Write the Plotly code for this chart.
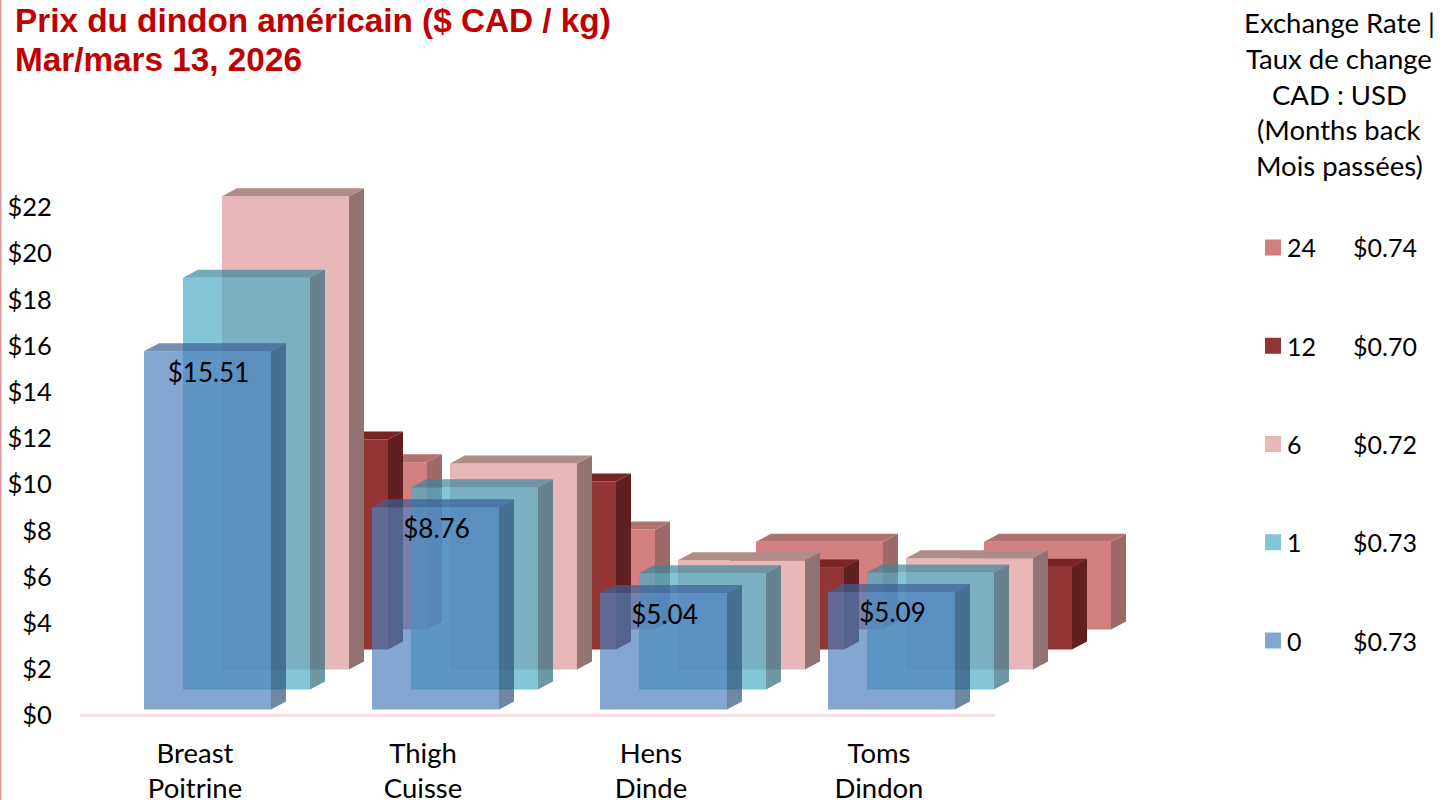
import plotly.graph_objects as go

# ---- data ----
categories = ["Breast<br>Poitrine", "Thigh<br>Cuisse", "Hens<br>Dinde", "Toms<br>Dindon"]
months_back = ["0", "1", "6", "12", "24"]
rates = ["$0.73", "$0.73", "$0.72", "$0.70", "$0.74"]
s0 = [15.51, 8.76, 5.04, 5.09]
s1 = [17.83, 8.75, 5.03, 5.06]
s2 = [20.49, 8.92, 4.73, 4.82]
s3 = [9.09, 7.27, 3.55, 3.58]
s4 = [7.24, 4.33, 3.80, 3.80]
series = [s0, s1, s2, s3, s4]
y_ticks = list(range(0, 24, 2))
title_lines = ["Prix du dindon américain ($ CAD / kg)", "Mar/mars 13, 2026"]
header_lines = ["Exchange Rate |", "Taux de change", "CAD : USD", "(Months back", "Mois passées)"]

# ---- styles / projection ----
front = ["rgba(79,129,189,0.7)", "rgba(75,172,198,0.7)", "rgb(232,184,184)", "rgb(146,53,53)", "rgb(209,127,127)"]
side = ["rgba(49,84,124,0.7)", "rgba(47,107,124,0.7)", "rgb(146,115,115)", "rgb(96,32,32)", "rgb(158,105,105)"]
top = ["rgba(58,97,150,0.7)", "rgba(56,135,156,0.7)", "rgb(175,140,135)", "rgb(122,36,36)", "rgb(176,114,110)"]
PX_X, PX_Y = 228.0, 23.1
X0_PX, Y0_PX = 195.0, 715.5
PLOT_L, PLOT_R, PLOT_T, PLOT_B = 80, 1140, 180, 734
bar_w = 127 / PX_X
first_c = 12.5 / PX_X
step_x = 39 / PX_X
step_y = 20 / PX_Y
base0 = 6 / PX_Y
depth_x = 15 / PX_X
depth_y = 8 / PX_Y
FONT = "Lato"
x_range = [(PLOT_L - X0_PX) / PX_X, (PLOT_R - X0_PX) / PX_X]
y_range = [(Y0_PX - PLOT_B) / PX_Y, (Y0_PX - PLOT_T) / PX_Y]

fig = go.Figure()
for s in range(4, -1, -1):
    n = 5 - s
    xa, ya = ("x", "y") if n == 1 else (f"x{n}", f"y{n}")
    centers = [i + first_c + s * step_x for i in range(len(categories))]
    base = base0 + s * step_y
    fig.add_trace(go.Bar(x=centers, y=series[s], base=base, width=bar_w, marker=dict(color=front[s], line=dict(width=0)),
                         name=months_back[s], xaxis=xa, yaxis=ya, showlegend=False))
    sx, sy, tx, ty = [], [], [], []
    for c, v in zip(centers, series[s]):
        l, r, t = c - bar_w / 2, c + bar_w / 2, base + v
        sx += [r, r + depth_x, r + depth_x, r, r, None]
        sy += [base, base + depth_y, t + depth_y, t, base, None]
        tx += [l, l + depth_x, r + depth_x, r, l, None]
        ty += [t, t + depth_y, t + depth_y, t, t, None]
    for px_, py_, col in ((sx, sy, side[s]), (tx, ty, top[s])):
        fig.add_trace(go.Scatter(x=px_, y=py_, mode="lines", fill="toself", fillcolor=col, line=dict(width=0),
                                 hoverinfo="skip", showlegend=False, xaxis=xa, yaxis=ya))
    if s == 0:
        fig.add_trace(go.Scatter(x=[c + 1 / PX_X for c in centers], y=[base + v - 24 / PX_Y for v in series[s]], mode="text",
                                 text=[f"${v:.2f}" for v in series[s]], textposition="middle center",
                                 textfont=dict(family=FONT, size=26, color="black"),
                                 hoverinfo="skip", showlegend=False, xaxis=xa, yaxis=ya))

layout = dict(
    width=1451, height=800, paper_bgcolor="white", plot_bgcolor="rgba(0,0,0,0)", barmode="overlay",
    margin=dict(l=PLOT_L, r=1451 - PLOT_R, t=PLOT_T, b=800 - PLOT_B, autoexpand=False),
    xaxis=dict(range=x_range, tickvals=list(range(4)), ticktext=categories, showgrid=False, zeroline=False,
               automargin=False, showline=False, ticks="", tickangle=0,
               tickfont=dict(family=FONT, size=27.5, color="black")),
    yaxis=dict(range=y_range, tickvals=y_ticks, ticktext=[f"${v}" for v in y_ticks], showgrid=False, zeroline=False,
               automargin=False, showline=False, ticks="outside", ticklen=22, tickcolor="rgba(0,0,0,0)",
               tickfont=dict(family=FONT, size=25.5, color="black")),
    showlegend=False,
)
for n in range(2, 6):
    layout[f"xaxis{n}"] = dict(range=x_range, overlaying="x", visible=False, automargin=False)
    layout[f"yaxis{n}"] = dict(range=y_range, overlaying="y", visible=False, automargin=False)

shapes = [
    dict(type="rect", xref="paper", yref="paper", x0=-PLOT_L / (PLOT_R - PLOT_L), x1=(1.5 - PLOT_L) / (PLOT_R - PLOT_L),
         y0=-1, y1=2, fillcolor="#DE9A9A", line=dict(width=0), layer="below"),
    dict(type="line", xref="x", yref="y", x0=(80 - X0_PX) / PX_X, x1=(995 - X0_PX) / PX_X, y0=0, y1=0,
         line=dict(color="#F6DEDE", width=3), layer="below"),
]
annos = []


def px(xp, yp, text, size, color="black", family=FONT, align="center", bold=False):
    annos.append(dict(xref="paper", yref="paper", x=(xp - PLOT_L) / (PLOT_R - PLOT_L),
                      y=(PLOT_B - yp) / (PLOT_B - PLOT_T), text=f"<b>{text}</b>" if bold else text, showarrow=False,
                      xanchor=align, yanchor="middle", xshift=0, yshift=0, borderpad=0, borderwidth=0,
                      font=dict(family=family, size=size, color=color)))


for i, line in enumerate(title_lines):
    px(15, 21 + 38 * i, line, 33.3, color="#C00000", family="Liberation Sans", align="left", bold=True)
for i, line in enumerate(header_lines):
    px(1339, 22.5 + 35.8 * i, line, 27.5)
for i, s in enumerate(range(4, -1, -1)):
    yc = 247.5 + 98.25 * i
    shapes.append(dict(type="rect", xref="paper", yref="paper", x0=(1265 - PLOT_L) / (PLOT_R - PLOT_L),
                       x1=(1281 - PLOT_L) / (PLOT_R - PLOT_L), y0=(PLOT_B - yc - 8) / (PLOT_B - PLOT_T),
                       y1=(PLOT_B - yc + 8) / (PLOT_B - PLOT_T), fillcolor=front[s], line=dict(width=0)))
    px(1287, yc, months_back[s], 25, align="left")
    px(1385, yc, rates[s], 25)
layout["shapes"] = shapes
layout["annotations"] = annos
fig.update_layout(**layout)
fig.write_html(
    "out.html",
    config={"displayModeBar": False},
    post_script="document.documentElement.style.margin='0';document.body.style.margin='0';"
                "document.body.style.padding='0';document.documentElement.style.overflow='hidden';",
)
